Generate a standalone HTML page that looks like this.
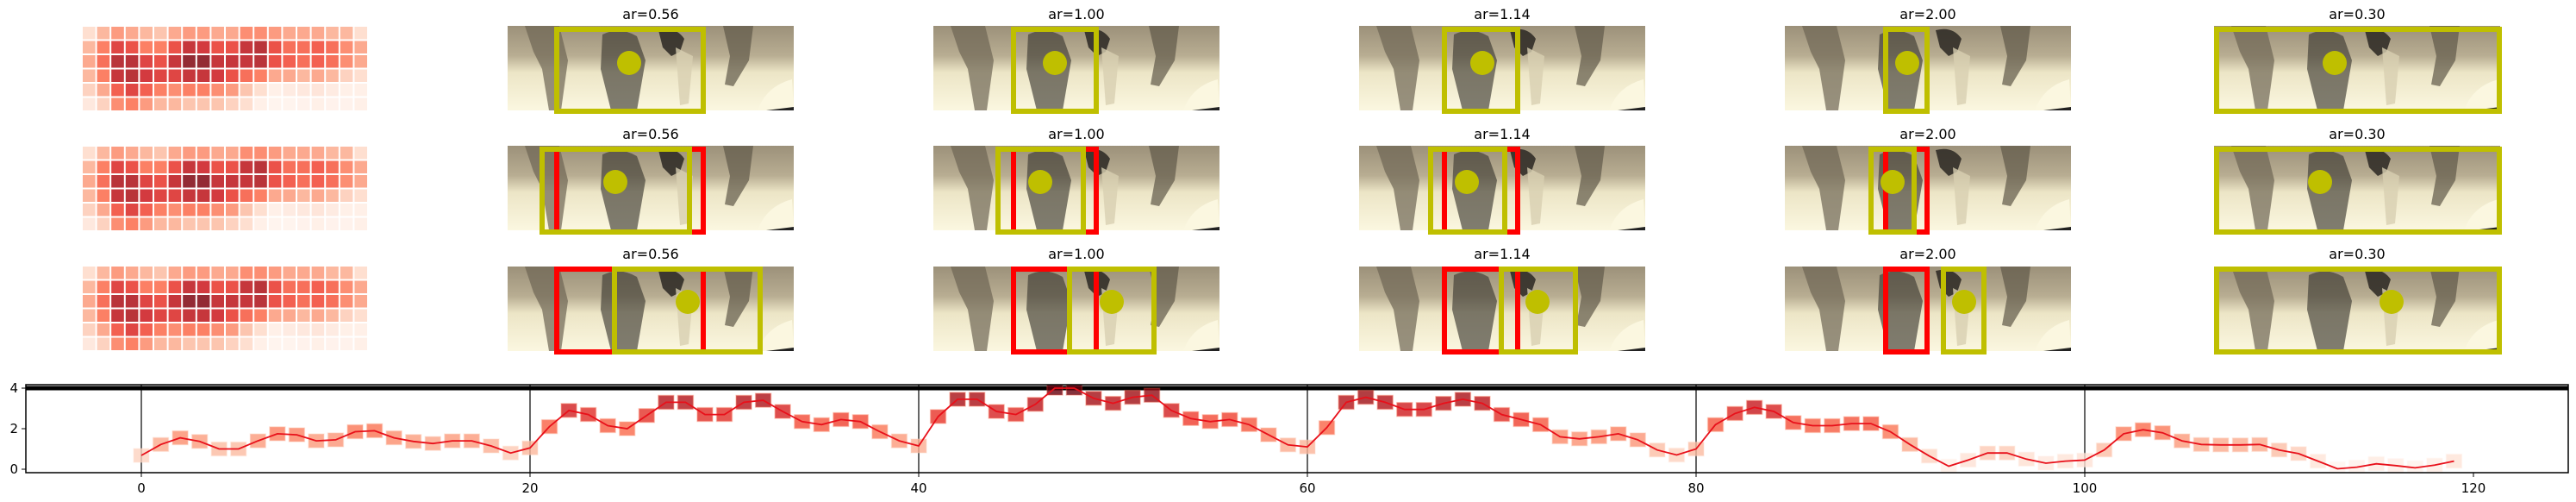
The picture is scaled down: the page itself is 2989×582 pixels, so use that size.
<!DOCTYPE html>
<html><head><meta charset="utf-8">
<style>
html,body{margin:0;padding:0;background:#fff;}
svg{display:block;font-family:"DejaVu Sans","Liberation Sans",sans-serif;}
</style></head>
<body>
<svg id="root" width="2989" height="582" viewBox="0 0 2989 582" xmlns="http://www.w3.org/2000/svg">
<defs>
  <linearGradient id="photoGrad" x1="0" y1="0" x2="0" y2="1">
    <stop offset="0" stop-color="#9c917a"/>
    <stop offset="0.35" stop-color="#b8ad92"/>
    <stop offset="0.55" stop-color="#ece5c6"/>
    <stop offset="1" stop-color="#fbf7e0"/>
  </linearGradient>
  <g id="photo">
    <rect x="0" y="0" width="332" height="98" fill="url(#photoGrad)"/>
    <path d="M20 0 L60 0 L70 40 L62 98 L48 98 L40 50 L30 30 Z" fill="#6d6554" opacity="0.7"/>
    <path d="M250 0 L285 0 L280 40 L262 70 L252 68 L258 35 Z" fill="#5f5848" opacity="0.7"/>
    <path d="M110 10 Q130 0 150 12 L160 40 L150 98 L120 98 L108 50 Z" fill="#3e3a32" opacity="0.65"/>
    <path d="M175 5 Q195 0 205 15 L200 30 L190 35 L180 25 Z" fill="#2a2722" opacity="0.85"/>
    <path d="M195 25 L215 35 L210 90 L200 92 Z" fill="#d8cfb2" opacity="0.8"/>
    <path d="M290 98 Q300 70 330 62 L332 98 Z" fill="#fbf7e0"/>
    <path d="M300 98 L332 94 L332 98 Z" fill="#222"/>
  </g>
</defs>
<g id="heatmaps"></g>
<g id="photos"></g>
<g id="chart"></g>
</svg>
<script>
// ---------- heatmap data ----------
const heatRows = [
 [.15,.3,.4,.35,.3,.25,.35,.4,.4,.35,.35,.45,.45,.4,.35,.35,.35,.3,.3,.15],
 [.3,.5,.7,.65,.5,.5,.65,.8,.75,.65,.65,.8,.85,.65,.55,.55,.6,.55,.45,.35],
 [.35,.55,.85,.85,.7,.65,.8,.95,.95,.8,.8,.8,.85,.65,.6,.55,.6,.55,.45,.35],
 [.3,.5,.8,.85,.75,.7,.7,.8,.8,.75,.65,.55,.5,.35,.35,.3,.35,.3,.2,.15],
 [.2,.35,.6,.7,.6,.5,.45,.5,.5,.45,.4,.25,.15,.05,.08,.1,.12,.08,.05,.05],
 [.1,.2,.45,.5,.4,.3,.3,.25,.25,.25,.2,.15,.05,.02,.02,.03,.05,.03,.03,.05]
];
// ---------- photo panel data ----------
const panelTitles = ["ar=0.56","ar=1.00","ar=1.14","ar=2.00","ar=0.30"];
const yellowBoxes = [
 [[643,819],[626,803],[710,885]],
 [[1173,1275],[1155,1260],[1238,1342]],
 [[1673,1764],[1657,1749],[1739,1831]],
 [[2185,2239],[2168,2224],[2252,2305]],
 [[2569,2903],[2569,2903],[2569,2903]]
];
const redBoxes = [
 [null,[643,819],[643,819]],
 [null,[1173,1275],[1173,1275]],
 [null,[1673,1764],[1673,1764]],
 [null,[2185,2239],[2185,2239]],
 [null,null,null]
];
const circleX = [
 [730,714,798],[1224,1207,1290],[1720,1702,1784],[2213,2196,2279],[2709,2692,2775]
];
// ---------- chart data ----------
const frameIdx = Array.from({length:120},(_,i)=>i);
const scores = [0.68,1.22,1.55,1.37,1.0,1.0,1.4,1.75,1.7,1.4,1.45,1.85,1.9,1.55,1.37,1.27,1.4,1.4,1.15,0.8,
1.05,2.1,2.9,2.7,2.15,2.0,2.65,3.3,3.3,2.7,2.7,3.3,3.4,2.85,2.35,2.2,2.45,2.35,1.85,1.4,
1.15,2.6,3.45,3.45,2.85,2.7,3.2,4.0,4.0,3.5,3.25,3.55,3.65,2.9,2.5,2.35,2.45,2.2,1.7,1.2,
1.1,2.05,3.3,3.55,3.3,2.95,2.95,3.25,3.45,3.25,2.7,2.45,2.2,1.6,1.5,1.6,1.75,1.45,0.95,0.7,
1.0,2.2,2.75,3.05,2.85,2.3,2.15,2.15,2.25,2.25,1.85,1.22,0.65,0.15,0.45,0.8,0.8,0.5,0.3,0.4,
0.45,0.95,1.75,1.95,1.8,1.4,1.22,1.2,1.2,1.22,0.95,0.77,0.4,0.02,0.1,0.27,0.18,0.07,0.2,0.4];
const xTicks = [0,20,40,60,80,100,120];
const yTicks = [0,2,4];
const vLines = [0,20,40,60,80,100];
const hLineValue = 4;

const NS="http://www.w3.org/2000/svg";
function mk(tag,attrs,parent){const e=document.createElementNS(NS,tag);for(const k in attrs)e.setAttribute(k,attrs[k]);parent.appendChild(e);return e;}
const stops=[[255,245,240],[254,224,210],[252,187,161],[252,146,114],[251,106,74],[239,59,44],[203,24,29],[165,15,21],[103,0,13]];
function reds(t){t=Math.max(0,Math.min(1,t));const p=t*8,i=Math.min(7,Math.floor(p)),f=p-i;const a=stops[i],b=stops[i+1];
 return `rgb(${Math.round(a[0]+(b[0]-a[0])*f)},${Math.round(a[1]+(b[1]-a[1])*f)},${Math.round(a[2]+(b[2]-a[2])*f)})`;}

// heatmaps
const hg=document.getElementById('heatmaps');
const rowTops=[30,169,308];
rowTops.forEach((top,r)=>{
  const g=mk('g',{},hg);
  
  
  const x0=95,w=332,h=99,cw=w/20,ch=h/6;
  heatRows.forEach((row,ri)=>row.forEach((v,ci)=>{
    const c=mk('rect',{x:x0+ci*cw+1,y:top+ri*ch+1,width:cw-2,height:ch-2,fill:reds(v),opacity:0.85},g);
    
    
  }));
});

// photos
const pg=document.getElementById('photos');
const imgX=[589,1083,1577,2071,2569];
const imgTop=[30,169,309];
const boxY=[[31,132],[170,272],[309,411]];
const circY=[73,211,350];
const titleY=[22,161,300];
for(let p=0;p<5;p++){
  for(let r=0;r<3;r++){
    const g=mk('g',{},pg);
    
    
    const u=mk('use',{href:'#photo',x:imgX[p],y:imgTop[r]},g);
    
    
    const t=mk('text',{x:imgX[p]+166,y:titleY[r],'text-anchor':'middle','font-size':16,fill:'#000'},g);
    t.textContent=panelTitles[p];
    
    
    const rb=redBoxes[p][r];
    if(rb){
      const rr=mk('rect',{x:rb[0]+3,y:boxY[r][0]+3,width:rb[1]-rb[0]-6,height:boxY[r][1]-boxY[r][0]-6,fill:'none',stroke:'#f00',"stroke-width":6},g);
      
      
    }
    const yb=yellowBoxes[p][r];
    const yr=mk('rect',{x:yb[0]+3,y:boxY[r][0]+3,width:yb[1]-yb[0]-6,height:boxY[r][1]-boxY[r][0]-6,fill:'none',stroke:'#bfbf00',"stroke-width":6},g);
    
    
    const c=mk('circle',{cx:circleX[p][r],cy:circY[r],r:14,fill:'#bfbf00'},g);
    
    
  }
}

// chart
const cg=document.getElementById('chart');
const L=30,R=2980,T=446,B=548;
const xs=v=>164+v*22.55;
const ys=v=>544-v*23.5;
const clip=mk('clipPath',{id:'cclip'},cg);mk('rect',{x:L,y:T,width:R-L,height:B-T},clip);
const plot=mk('g',{'clip-path':'url(#cclip)'},cg);
vLines.forEach(v=>{const l=mk('line',{x1:xs(v),x2:xs(v),y1:T,y2:B,stroke:'#000','stroke-width':1.2},plot);
 });
const hl=mk('line',{x1:L,x2:R,y1:ys(hLineValue),y2:ys(hLineValue),stroke:'#000','stroke-width':5},plot);

scores.forEach((v,i)=>{
  const m=mk('rect',{x:xs(frameIdx[i])-9,y:ys(v)-8,width:18,height:16,fill:reds(v/4),opacity:0.8,stroke:reds(v/4*0.6),'stroke-opacity':0.4,'stroke-width':1.5},plot);
  
  
});
const pts=scores.map((v,i)=>xs(frameIdx[i]).toFixed(1)+','+ys(v).toFixed(1)).join(' ');
const pl=mk('polyline',{points:pts,fill:'none',stroke:'#e8101a','stroke-width':1.8},plot);

const fr=mk('rect',{x:L,y:T,width:R-L,height:B-T,fill:'none',stroke:'#000','stroke-width':1.5},cg);

xTicks.forEach(v=>{
  mk('line',{x1:xs(v),x2:xs(v),y1:B,y2:B+5,stroke:'#000','stroke-width':1},cg);
  const t=mk('text',{x:xs(v),y:B+23,'text-anchor':'middle','font-size':15,fill:'#000'},cg);
  t.textContent=v;
  
});
yTicks.forEach(v=>{
  mk('line',{x1:L-5,x2:L,y1:ys(v),y2:ys(v),stroke:'#000','stroke-width':1},cg);
  const t=mk('text',{x:L-9,y:ys(v)+5,'text-anchor':'end','font-size':15,fill:'#000'},cg);
  t.textContent=v;
  
});
</script>
</body></html>
